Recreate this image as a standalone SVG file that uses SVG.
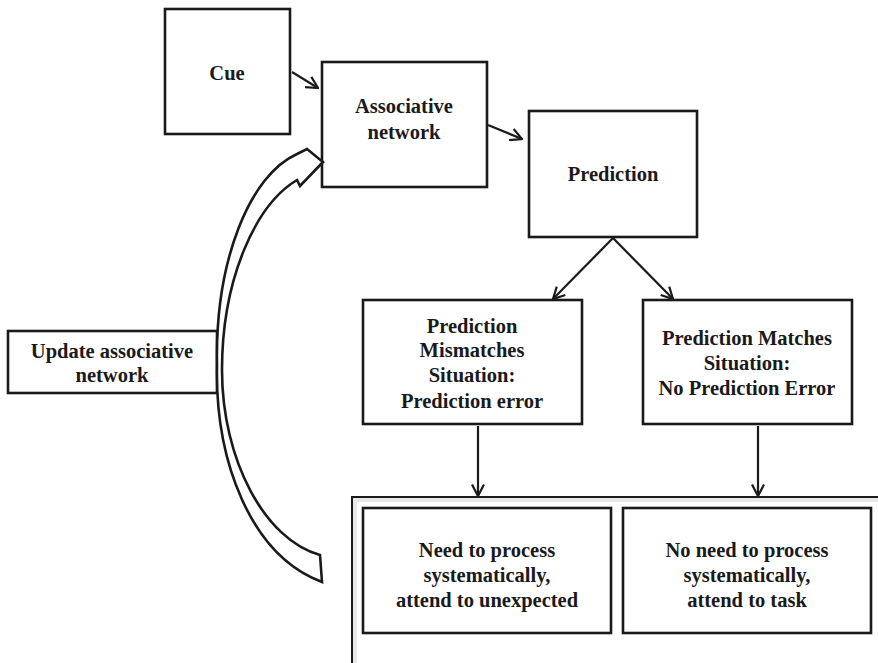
<svg xmlns="http://www.w3.org/2000/svg" width="878" height="663" viewBox="0 0 878 663">
<defs>
<style>
.box{fill:#fff;stroke:#1a1a1a;stroke-width:2.6}
.t{font-family:"Liberation Serif","Times New Roman",serif;font-weight:bold;font-size:20.5px;fill:#1a1a1a;text-anchor:middle}
.c{stroke:#1a1a1a;stroke-width:2.2;fill:none}
</style>
<marker id="ah" viewBox="0 0 14 14" refX="13" refY="7" markerWidth="14" markerHeight="14" markerUnits="userSpaceOnUse" orient="auto">
<path d="M1.5,1 L13,7 L1.5,13" fill="none" stroke="#1a1a1a" stroke-width="2.2"/>
</marker>
</defs>
<rect width="878" height="663" fill="#fff"/>
<g id="outer">
<rect x="352" y="497" width="540" height="190" fill="#fff" stroke="#1a1a1a" stroke-width="2"/>
<rect x="355" y="500" width="540" height="190" fill="none" stroke="#e8e8e8" stroke-width="4"/>
</g>
<g id="cue"><rect class="box" x="165" y="9" width="125" height="125"/><text class="t" x="227" y="80">Cue</text></g>
<g id="assoc"><rect class="box" x="322" y="62" width="165" height="125"/><text class="t" x="404" y="113">Associative</text><text class="t" x="404" y="139">network</text></g>
<g id="prediction"><rect class="box" x="529" y="111" width="168" height="126"/><text class="t" x="613" y="181">Prediction</text></g>
<g id="mismatch"><rect class="box" x="363" y="300" width="219" height="124"/><text class="t" x="472" y="333">Prediction</text><text class="t" x="472" y="357">Mismatches</text><text class="t" x="472" y="382">Situation:</text><text class="t" x="472" y="408">Prediction error</text></g>
<g id="match"><rect class="box" x="643" y="300" width="209" height="124"/><text class="t" x="747" y="345">Prediction Matches</text><text class="t" x="747" y="370">Situation:</text><text class="t" x="747" y="395">No Prediction Error</text></g>
<g id="update"><rect class="box" x="8" y="331" width="209" height="62"/><text class="t" x="112" y="358">Update associative</text><text class="t" x="112" y="382">network</text></g>
<g id="need"><rect class="box" x="363" y="508" width="248" height="125"/><text class="t" x="487" y="557">Need to process</text><text class="t" x="487" y="582">systematically,</text><text class="t" x="487" y="607">attend to unexpected</text></g>
<g id="noneed"><rect class="box" x="623" y="508" width="248" height="125"/><text class="t" x="747" y="557">No need to process</text><text class="t" x="747" y="582">systematically,</text><text class="t" x="747" y="607">attend to task</text></g>
<g id="connectors">
<line class="c" x1="292" y1="72" x2="318" y2="88" marker-end="url(#ah)"/>
<line class="c" x1="488" y1="125" x2="522" y2="139" marker-end="url(#ah)"/>
<line class="c" x1="613" y1="238" x2="553" y2="299" marker-end="url(#ah)"/>
<line class="c" x1="613" y1="238" x2="673" y2="299" marker-end="url(#ah)"/>
<line class="c" x1="478" y1="426" x2="478" y2="496" marker-end="url(#ah)"/>
<line class="c" x1="758" y1="426" x2="758" y2="496" marker-end="url(#ah)"/>
<path d="M297,154 C250,175 215,260 217,365 C215,460 250,555 322,582 L320,555 C265,540 222,460 222,370 C222,280 255,205 297,180 L300,186 L323,162 L307,149 Z" fill="#fff" stroke="#1a1a1a" stroke-width="2.6" stroke-linejoin="miter"/>
</g>
</svg>
